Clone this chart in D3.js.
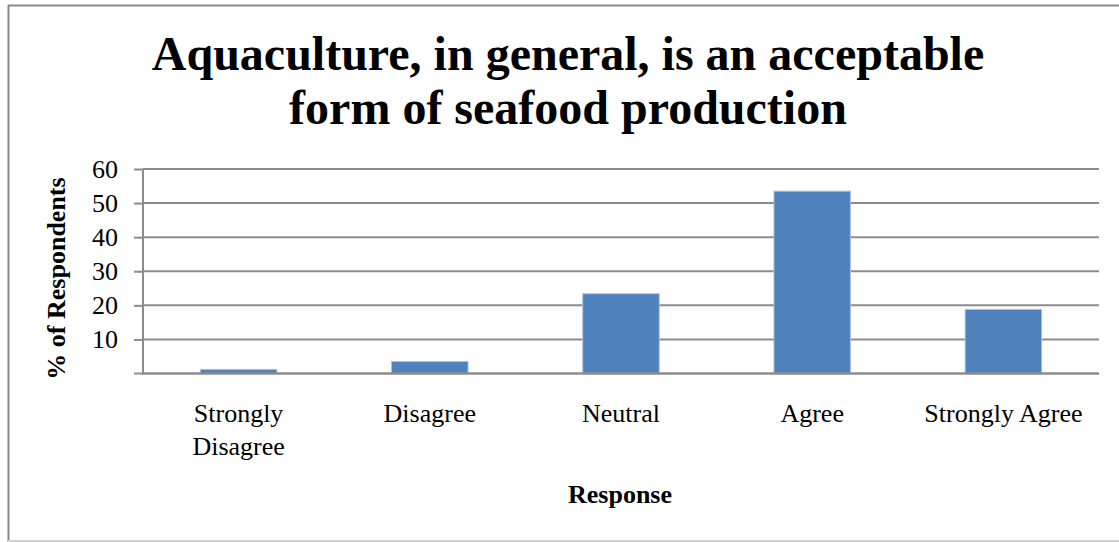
<!DOCTYPE html>
<html>
<head>
<meta charset="utf-8">
<script src="https://cdn.jsdelivr.net/npm/d3@7"></script>
<style>
  html, body { margin: 0; padding: 0; background: #fff; }
  svg { display: block; }
  text { font-family: "Liberation Serif", "Times New Roman", serif; fill: #000; }
</style>
</head>
<body>
<svg id="chart" width="1119" height="542"></svg>
<script>
// Survey responses (% of respondents)
const categories = ["Strongly Disagree", "Disagree", "Neutral", "Agree", "Strongly Agree"];
const values = [1.2, 3.5, 23.4, 53.5, 18.8];
const yTicks = [10, 20, 30, 40, 50, 60];
const titleLines = ["Aquaculture, in general, is an acceptable", "form of seafood production"];
const xTitle = "Response";
const yTitle = "% of Respondents";

const svg = d3.select("#chart");
const W = 1119, H = 542;
const plotLeft = 143, plotRight = 1099;
const plotTop = 169, plotBottom = 373.5;
const fontSize = 26;

// chart frame
svg.append("line").attr("x1", 8).attr("x2", W).attr("y1", 5.5).attr("y2", 5.5)
  .attr("stroke", "#888").attr("stroke-width", 2);
svg.append("line").attr("x1", 8.5).attr("x2", 8.5).attr("y1", 5).attr("y2", H)
  .attr("stroke", "#888").attr("stroke-width", 2);
svg.append("line").attr("x1", 8).attr("x2", W).attr("y1", 541).attr("y2", 541)
  .attr("stroke", "#d0d0d0").attr("stroke-width", 2);

const x = d3.scaleBand().domain(categories).range([plotLeft, plotRight])
  .paddingInner(0.6).paddingOuter(0.3);
const y = d3.scaleLinear().domain([0, 60]).range([plotBottom, plotTop]);

// gridlines
svg.append("g").selectAll("line").data(yTicks).join("line")
  .attr("x1", plotLeft).attr("x2", plotRight)
  .attr("y1", d => y(d)).attr("y2", d => y(d))
  .attr("stroke", "#8c8c8c").attr("stroke-width", 2);

// bars
svg.append("g").selectAll("rect").data(values).join("rect")
  .attr("x", (d, i) => x(categories[i]))
  .attr("width", x.bandwidth())
  .attr("y", d => y(d))
  .attr("height", d => y(0) - y(d))
  .attr("fill", "#4f81bd")
  .attr("stroke", "#a9c1df").attr("stroke-width", 1);

// y axis
const yAxis = d3.axisLeft(y).tickValues(yTicks).tickSize(9).tickPadding(16);
const gy = svg.append("g").attr("transform", `translate(${plotLeft},0)`).call(yAxis);
gy.select(".domain").attr("stroke", "#8c8c8c").attr("stroke-width", 2)
  .attr("d", `M0,${plotTop}V${plotBottom}`);
gy.selectAll(".tick line").attr("stroke", "#8c8c8c").attr("stroke-width", 2);
gy.selectAll(".tick text").attr("font-size", fontSize)
  .attr("font-family", "Liberation Serif").attr("fill", "#000");
// zero tick mark
gy.append("line").attr("x1", -9).attr("x2", 0).attr("y1", y(0)).attr("y2", y(0))
  .attr("stroke", "#8c8c8c").attr("stroke-width", 2);

// x axis baseline
svg.append("line").attr("x1", plotLeft - 1).attr("x2", plotRight)
  .attr("y1", y(0)).attr("y2", y(0)).attr("stroke", "#8c8c8c").attr("stroke-width", 2.5);

// category labels (long one wrapped onto two lines)
const xl = svg.append("g").selectAll("text").data(categories).join("text")
  .attr("x", d => x(d) + x.bandwidth() / 2)
  .attr("y", 421.5)
  .attr("text-anchor", "middle")
  .attr("font-size", fontSize);
xl.each(function(d) {
  const t = d3.select(this);
  const lines = d === "Strongly Disagree" ? ["Strongly", "Disagree"] : [d];
  lines.forEach((ln, k) => {
    t.append("tspan").attr("x", x(d) + x.bandwidth() / 2).attr("dy", k === 0 ? 0 : 33).text(ln);
  });
});

// chart title
const tt = svg.append("text").attr("text-anchor", "middle").attr("font-weight", "bold")
  .attr("font-size", 48).attr("x", 568).attr("y", 70);
titleLines.forEach((ln, k) => tt.append("tspan").attr("x", 568).attr("dy", k === 0 ? 0 : 54).text(ln));

// axis titles
svg.append("text").attr("x", 620).attr("y", 503).attr("text-anchor", "middle")
  .attr("font-weight", "bold").attr("font-size", fontSize).text(xTitle);

svg.append("text").attr("transform", `translate(65,278.5) rotate(-90)`)
  .attr("text-anchor", "middle").attr("font-weight", "bold").attr("font-size", fontSize).text(yTitle);
</script>
</body>
</html>
